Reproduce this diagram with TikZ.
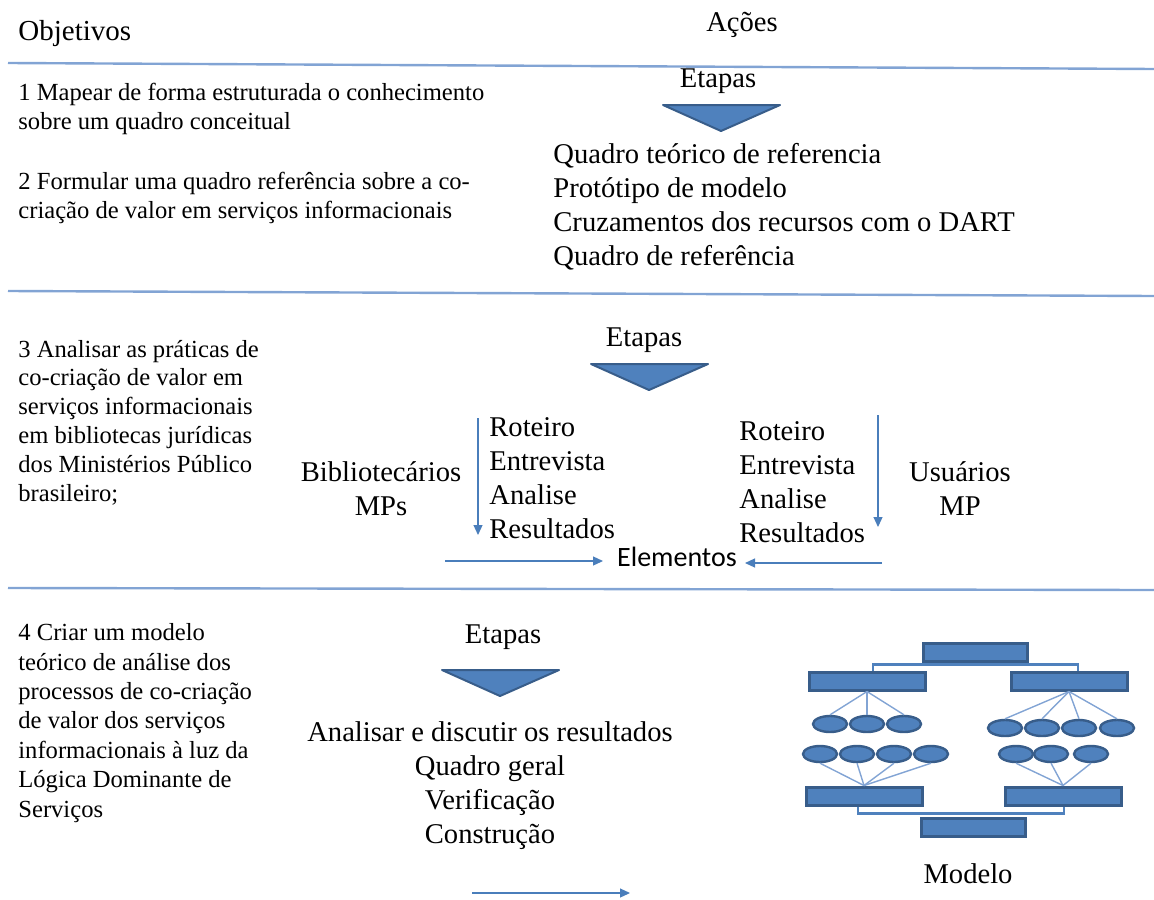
\documentclass[tikz,border=0pt]{standalone}
\usepackage{fontspec}
\setmainfont{Liberation Serif}
\newfontfamily\calibri{Carlito}
\usetikzlibrary{arrows.meta,shapes.geometric}

\definecolor{azul}{RGB}{79,129,189}
\definecolor{azulescuro}{RGB}{56,93,138}
\definecolor{linha}{RGB}{130,164,212}
\definecolor{seta}{RGB}{74,126,187}

\begin{document}
\begin{tikzpicture}[x=0.5pt,y=-0.5pt,>={Triangle[length=5pt,width=4.5pt]}]

  \tikzstyle{divisa}=[draw=linha,line width=1.2pt]
  \tikzstyle{flecha}=[->,draw=seta,line width=0.6pt]
  \tikzstyle{etapa}=[fill=azul,draw=azulescuro,line width=1pt,line join=round]
  \tikzstyle{objetivo}=[inner sep=0pt,anchor=base west,align=left,
                        font=\fontsize{12.3}{14.4}\selectfont]
  \tikzstyle{acao}=[inner sep=0pt,anchor=base,font=\fontsize{14.3}{17}\selectfont]
  \tikzstyle{lista}=[acao,anchor=base west,align=left]
  \tikzstyle{bloco}=[rectangle,fill=azul,draw=azulescuro,line width=1.5pt,
                     minimum width=58pt,minimum height=9pt,inner sep=0pt]
  \tikzstyle{elipse}=[ellipse,fill=azul,draw=azulescuro,line width=1.2pt,
                      minimum width=17pt,minimum height=8pt,inner sep=0pt]
  \tikzstyle{ramo}=[draw=linha,line width=0.7pt]
  \tikzstyle{colchete}=[draw=azul,line width=1.4pt]

  \useasboundingbox (0,0) rectangle (1154,899);

  % cabecalho
  \node [objetivo,font=\fontsize{14.5}{16}\selectfont] (obj) at (18,41) {Objetivos};
  \node [acao] (acoes) at (742,32) {Ações};

  % linhas divisorias
  \coordinate (d1a) at (8,63);  \coordinate (d1b) at (1154,69);
  \coordinate (d2a) at (8,291); \coordinate (d2b) at (1154,296);
  \coordinate (d3a) at (8,588); \coordinate (d3b) at (1154,590);
  \draw [divisa] (d1a) -- (d1b);
  \draw [divisa] (d2a) -- (d2b);
  \draw [divisa] (d3a) -- (d3b);

  % primeira faixa
  \node [objetivo] (o1) at (18,129)
    {1 Mapear de forma estruturada o conhecimento\\sobre um quadro conceitual};
  \node [objetivo] (o2) at (18,218)
    {2 Formular uma quadro referência sobre a co-\\criação de valor em serviços informacionais};
  \node [acao] (et1) at (718,88) {Etapas};
  \filldraw [etapa] (663,105) -- (780,105) -- (721,131) -- cycle;
  \node [lista] (l1) at (553,265)
    {Quadro teórico de referencia\\Protótipo de modelo\\Cruzamentos dos recursos com o DART\\Quadro de referência};

  % segunda faixa
  \node [objetivo] (o3) at (18,501)
    {3 Analisar as práticas de\\co-criação de valor em\\serviços informacionais\\em bibliotecas jurídicas\\dos Ministérios Público\\brasileiro;};
  \node [acao] (et2) at (644,346) {Etapas};
  \filldraw [etapa] (591,364) -- (708,364) -- (649,390) -- cycle;
  \node [acao,align=center] (bib) at (381,515) {Bibliotecários\\MPs};
  \node [lista] (l2) at (489,538) {Roteiro\\Entrevista\\Analise\\Resultados};
  \node [lista] (l3) at (739,542) {Roteiro\\Entrevista\\Analise\\Resultados};
  \node [acao,align=center] (usu) at (960,515) {Usuários\\MP};
  \node [acao,font=\calibri\fontsize{14}{16}\selectfont] (elem) at (677,566) {Elementos};
  \coordinate (b1) at (478,418); \coordinate (b2) at (478,535);
  \coordinate (u1) at (878,415); \coordinate (u2) at (878,527);
  \coordinate (e1) at (445,561); \coordinate (e2) at (603,561);
  \coordinate (e3) at (882,563); \coordinate (e4) at (745,563);
  \draw [flecha] (b1) -- (b2);
  \draw [flecha] (u1) -- (u2);
  \draw [flecha] (e1) -- (e2);
  \draw [flecha] (e3) -- (e4);

  % terceira faixa
  \node [objetivo,font=\fontsize{12.3}{14.7}\selectfont] (o4) at (18,817)
    {4 Criar um modelo\\teórico de análise dos\\processos de co-criação\\de valor dos serviços\\informacionais à luz da\\Lógica Dominante de\\Serviços};
  \node [acao] (et3) at (503,643) {Etapas};
  \filldraw [etapa] (442,670) -- (559,670) -- (500,696) -- cycle;
  \node [acao,align=center] (l4) at (490,843)
    {Analisar e discutir os resultados\\Quadro geral\\Verificação\\Construção};
  \coordinate (m1) at (472,893); \coordinate (m2) at (630,893);
  \draw [flecha] (m1) -- (m2);

  % modelo
  \node [bloco,minimum width=52pt] (topo) at (975,652) {};
  \node [bloco] (esqA) at (867,681) {};
  \node [bloco] (dirA) at (1069,681) {};
  \node [bloco] (esqB) at (864,796) {};
  \node [bloco] (dirB) at (1063,796) {};
  \node [bloco,minimum width=52pt] (base) at (973,827) {};

  \foreach \n/\x in {1/830,2/867,3/904}
    \node [elipse] (ea\n) at (\x,724) {};
  \foreach \n/\x in {1/820,2/857,3/894,4/931}
    \node [elipse] (eb\n) at (\x,754) {};
  \foreach \n/\x in {1/1005,2/1042,3/1079,4/1117}
    \node [elipse] (da\n) at (\x,728) {};
  \foreach \n/\x in {1/1016,2/1051,3/1091}
    \node [elipse] (db\n) at (\x,754) {};

  \foreach \n in {1,2,3} \draw [ramo] (esqA.south) -- (ea\n.north);
  \foreach \n in {1,2,3,4} \draw [ramo] (eb\n.south) -- (esqB.north);
  \foreach \n in {1,2,3,4} \draw [ramo] (dirA.south) -- (da\n.north);
  \foreach \n in {1,2,3} \draw [ramo] (db\n.south) -- (dirB.north);

  \draw [colchete] ([xshift=3pt]esqA.north) |- ([yshift=-1pt]topo.south)
    -| ([xshift=4.5pt]dirA.north);
  \draw [colchete] ([xshift=-3pt]esqB.south) |- ([yshift=1.5pt]base.north)
    -| ([xshift=0.5pt]dirB.south);

  \node [acao] (mod) at (968,883) {Modelo};
\end{tikzpicture}
\end{document}
